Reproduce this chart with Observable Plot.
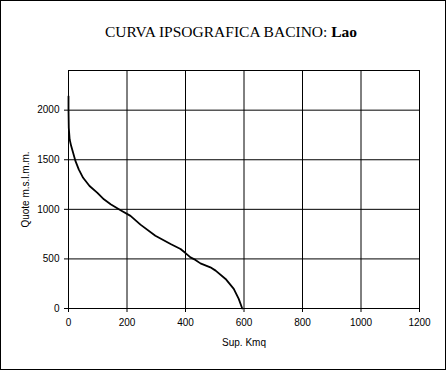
<!DOCTYPE html>
<html><head><meta charset="utf-8">
<script src="https://cdn.jsdelivr.net/npm/d3@7"></script>
<script src="https://cdn.jsdelivr.net/npm/@observablehq/plot@0.6"></script>
<style>body{margin:0;background:#fff}svg{display:block}</style>
</head><body><div id="chart"></div>
<script>
const area = [0, 0, 1, 4, 9, 16, 24, 35, 50, 72, 98, 121, 144, 178, 212, 246, 297, 349, 383, 400, 417, 434, 451, 485, 503, 537, 565, 582, 594];
const elev = [2140, 2008, 1820, 1704, 1640, 1569, 1486, 1403, 1318, 1235, 1168, 1101, 1051, 991, 934, 846, 733, 650, 600, 559, 515, 490, 455, 415, 382, 298, 198, 97, 0];
const xTicks = [0, 200, 400, 600, 800, 1000, 1200];
const yTicks = [0, 500, 1000, 1500, 2000];
const titleMain = "CURVA IPSOGRAFICA BACINO: ";
const titleBasin = "Lao";
const data = area.map((a, i) => ({a, e: elev[i]}));

const chart = Plot.plot({
  width: 446, height: 370,
  marginLeft: 68, marginRight: 27, marginTop: 70, marginBottom: 62,
  style: {fontFamily: "'Liberation Sans', Arial, sans-serif", fontSize: "10px", color: "#000", background: "#fff"},
  x: {domain: [0, 1200]},
  y: {domain: [0, 2400]},
  marks: [
    Plot.gridX(xTicks, {stroke: "#000", strokeOpacity: 1, strokeWidth: 1}),
    Plot.gridY(yTicks, {stroke: "#000", strokeOpacity: 1, strokeWidth: 1}),
    Plot.frame({stroke: "#000", strokeWidth: 1}),
    Plot.axisX(xTicks, {tickSize: 4, tickPadding: 6, label: "Sup. Kmq", labelAnchor: "center", labelArrow: "none", labelOffset: 37, tickFormat: d => String(d)}),
    Plot.axisY(yTicks, {tickSize: 4, tickPadding: 5, label: "Quote m.s.l.m.m.", labelAnchor: "center", labelArrow: "none", labelOffset: 47, tickFormat: d => String(d)}),
    Plot.line(data, {x: "a", y: "e", stroke: "#000", strokeWidth: 1.8})
  ]
});

const svg = d3.select(chart);
svg.append("rect").attr("x", 0.5).attr("y", 0.5).attr("width", 445).attr("height", 369)
  .attr("fill", "none").attr("stroke", "#000");
const t = svg.append("text").attr("x", 231).attr("y", 37).attr("text-anchor", "middle")
  .attr("font-family", "'Liberation Serif', 'Times New Roman', serif").attr("font-size", 15.5).attr("fill", "#000");
t.append("tspan").text(titleMain);
t.append("tspan").attr("font-weight", "bold").text(titleBasin);
document.getElementById("chart").append(chart);
</script></body></html>
